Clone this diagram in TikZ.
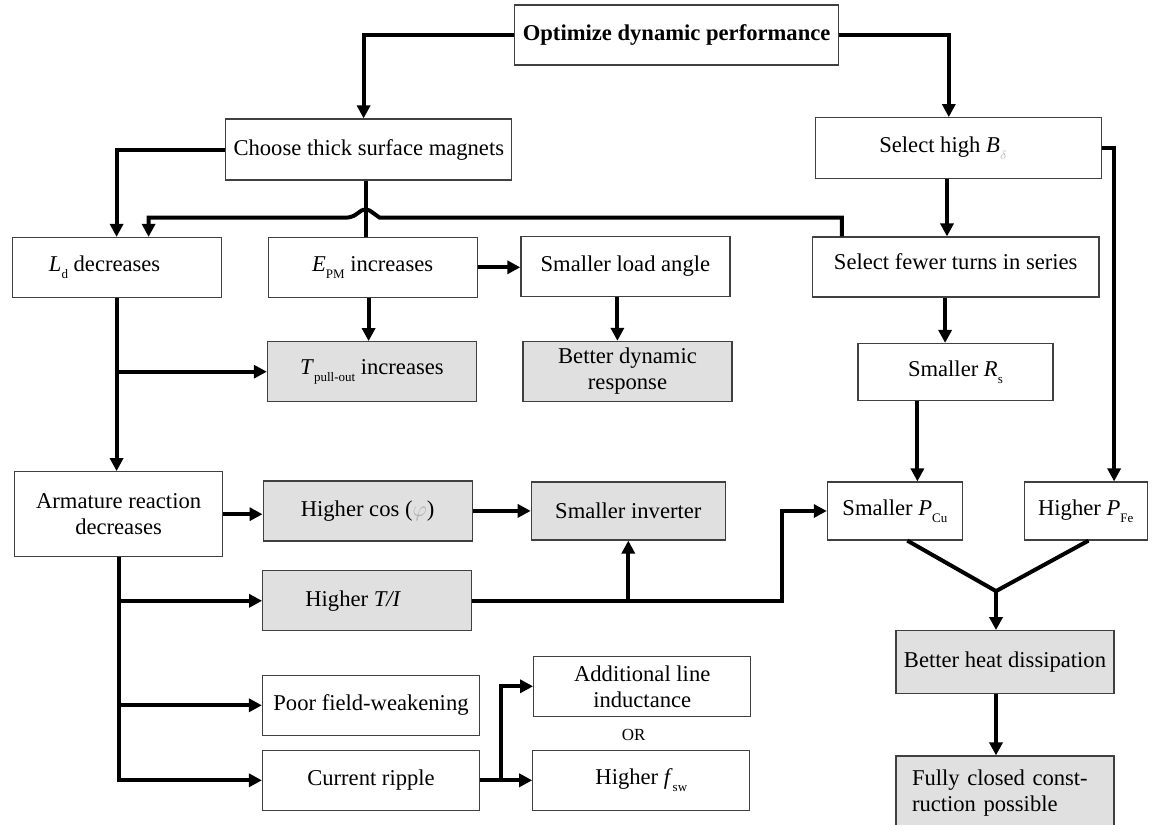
\documentclass[tikz,border=0pt]{standalone}
\usepackage{fontspec}
\setmainfont{Liberation Serif}
\usetikzlibrary{arrows.meta,calc}
\definecolor{boxgrey}{RGB}{224,224,224}
\newcommand\lowsub[1]{\raisebox{-3.5pt}{\fontsize{6.5}{7}\selectfont #1}}

\begin{document}
\begin{tikzpicture}[x=0.5pt, y=-0.5pt, >={Triangle[length=6.5pt,width=6.5pt]},
	box/.style={draw=black!75, line width=0.6pt, inner sep=0pt, align=center,
	minimum width=104.5pt, minimum height=30pt, font=\fontsize{11.3}{13}\selectfont},
	greybox/.style={box, fill=boxgrey}, wire/.style={line width=2pt}]

\useasboundingbox (0,0) rectangle (1152,825);

\node[box, minimum width=162pt, font=\fontsize{11.3}{13}\selectfont\bfseries] (opt) at (676.6,35) {Optimize dynamic performance};
\node[box, minimum width=143pt, minimum height=30.5pt] (choose) at (368.8,149.5) {Choose thick surface magnets};
\node[box, minimum width=143pt, minimum height=30.5pt] (selB) at (958.2,148.2) {\hspace*{-15pt}Select high \textit{B}\lowsub{\color{gray!50}$\delta$}};
\node[box] (ld) at (116.6,267.5) {\hspace*{-12pt}\textit{L}\lowsub{d} decreases};
\node[box] (epm) at (372.6,267.3) {\textit{E}\lowsub{PM} increases};
\node[box] (sla) at (625.4,266.3) {Smaller load angle};
\node[box, minimum width=143.3pt] (fewer) at (955.7,267) {\raisebox{5pt}{Select fewer turns in series}};
\node[greybox] (tpull) at (371.9,371.7) {\textit{T}\lowsub{pull-out} increases};
\node[greybox] (bdr) at (627.5,371.4) {Better dynamic\\response};
\node[box, minimum width=97.5pt, minimum height=28.5pt] (rs) at (955.4,372) {Smaller \textit{R}\lowsub{s}};
\node[box, minimum width=104pt, minimum height=42.5pt] (arm) at (118.6,514.2) {Armature reaction\\decreases};
\node[greybox] (cos) at (367.6,510.9) {Higher cos ({\color{gray!60}$\varphi$})};
\node[greybox, minimum width=97pt, minimum height=29pt] (inv) at (628.3,511) {Smaller inverter};
\node[box, minimum width=67.5pt, minimum height=29pt] (pcu) at (894.9,511) {Smaller \textit{P}\lowsub{Cu}};
\node[box, minimum width=61.5pt, minimum height=29pt] (pfe) at (1085.7,511) {Higher \textit{P}\lowsub{Fe}};
\node[greybox] (ti) at (367.2,600.8) {\hspace*{-14pt}Higher \textit{T/I}};
\node[box, minimum width=108.5pt] (poor) at (371,705.3) {Poor field-weakening};
\node[box, minimum width=108.5pt] (cr) at (371,780.3) {Current ripple};
\node[box, minimum width=108.5pt] (add) at (642.2,686.3) {Additional line\\inductance};
\node[box, minimum width=108.5pt] (fsw) at (641.3,780.3) {Higher \textit{f}\lowsub{sw}};
\node[font=\fontsize{8.5}{10}\selectfont] (or) at (633.6,735) {OR};
\node[greybox, minimum width=109pt, minimum height=31.3pt] (heat) at (1005,662) {Better heat dissipation};
\node[greybox, minimum height=37pt, align=left, text width=93pt, inner xsep=8pt] (fully) at (1005,793) {Fully closed const-\\ruction possible};

\coordinate (hop) at ([xshift=-1.6pt,yshift=-18.5pt]choose.south);
\coordinate (vtip) at ([xshift=-4.5pt,yshift=19.5pt]heat.north);

\draw[wire,->] (opt.west) -| ([xshift=-2.6pt]choose.north);
\draw[wire,->] (opt.east) -| ([xshift=-4.7pt]selB.north);
\draw[wire,->] (choose.west) -| (ld.north);
\draw[wire] ([xshift=-1.6pt]choose.south) -- ([xshift=-1.6pt]choose.south |- epm.north);
\draw[wire,->] ([xshift=15pt]fewer.north west) |- ([xshift=7pt]hop)
	[rounded corners=2.5pt] -- ([yshift=5pt]hop) -- ([xshift=-7pt]hop)
	[sharp corners] -| ([xshift=16pt]ld.north);
\draw[wire,->] ([xshift=-5.6pt]selB.south) -- ([xshift=-5.6pt]selB.south |- fewer.north);
\draw[wire,->] (selB.east) -| ([xshift=14.2pt]pfe.north);
\draw[wire,->] (epm.east) -- (epm.east -| sla.west);
\draw[wire,->] ([xshift=-2pt]epm.south) -- ([xshift=-2pt]epm.south |- tpull.north);
\draw[wire,->] ([xshift=-4pt]sla.south) -- ([xshift=-4pt]sla.south |- bdr.north);
\draw[wire,->] ([xshift=-5.3pt]fewer.south) -- ([xshift=-5.3pt]fewer.south |- rs.north);
\draw[wire,->] (ld.south) -- (ld.south |- arm.north);
\draw[wire,->] (ld.south |- tpull.west) -- (tpull.west);
\draw[wire,->] ([xshift=-19pt]rs.south) -- ([xshift=-19pt]rs.south |- pcu.north);
\draw[wire,->] (arm.east) -- (arm.east -| cos.west);
\draw[wire,->] (cos.east) -- (cos.east -| inv.west);
\draw[wire,->] (arm.south) |- (cr.west);
\draw[wire,->] (arm.south |- ti.west) -- (ti.west);
\draw[wire,->] (arm.south |- poor.west) -- (poor.west);
\draw[wire,->] (ti.east) -| ([xshift=-22.3pt]pcu.west) -- (pcu.west);
\draw[wire,->] (inv.south |- ti.east) -- (inv.south);
\draw[wire,->] (cr.east) -- (fsw.west);
\draw[wire,->] ([xshift=10.5pt]cr.east) |- (add.west);
\draw[wire] ([xshift=6.2pt]pcu.south) -- (vtip) -- ([xshift=1.4pt]pfe.south);
\draw[wire,->] (vtip) -- (vtip |- heat.north);
\draw[wire,->] (vtip |- heat.south) -- (vtip |- fully.north);
\end{tikzpicture}
\end{document}
